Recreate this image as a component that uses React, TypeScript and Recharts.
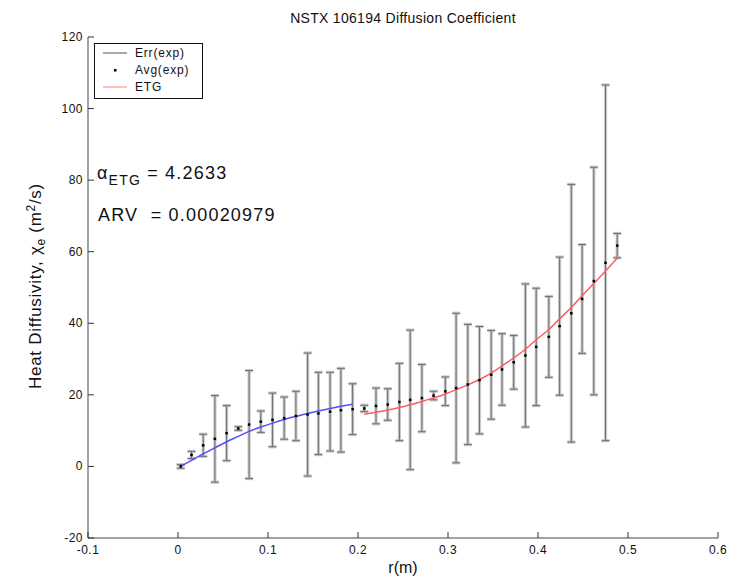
import { ComposedChart, Scatter, Line, XAxis, YAxis, ErrorBar } from "recharts";

// radius of each measured point (m)
const radius = [
  0.003, 0.015, 0.028, 0.041, 0.054, 0.067, 0.079, 0.092, 0.105, 0.118,
  0.131, 0.144, 0.156, 0.169, 0.181, 0.194, 0.207, 0.22, 0.233, 0.246,
  0.258, 0.271, 0.284, 0.297, 0.309, 0.322, 0.335, 0.348, 0.36, 0.373,
  0.386, 0.398, 0.412, 0.424, 0.437, 0.449, 0.462, 0.475, 0.488,
];

// Avg(exp)
const chiAvg = [
  0.0, 3.2, 5.9, 7.7, 9.3, 10.6, 11.7, 12.5, 13.0, 13.5,
  14.1, 14.5, 14.8, 15.3, 15.7, 16.0, 16.2, 16.9, 17.3, 18.0,
  18.6, 19.1, 19.8, 21.0, 21.9, 22.9, 24.1, 25.6, 27.1, 29.1,
  31.0, 33.4, 36.2, 39.2, 42.8, 46.8, 51.8, 56.9, 61.7,
];

// Err(exp), half width of each bar
const chiErr = [
  0.5, 1.0, 3.1, 12.1, 7.7, 0.5, 15.1, 3.0, 7.5, 5.9,
  6.9, 17.2, 11.5, 11.0, 11.7, 7.1, 0.9, 5.0, 4.4, 10.8,
  19.5, 9.4, 1.2, 4.0, 20.9, 16.8, 15.0, 12.4, 10.0, 7.5,
  20.0, 16.4, 11.3, 19.3, 36.0, 15.2, 31.8, 49.7, 3.4,
];

// inner fit (blue), first 16 points
const fitInner = [
  0.0, 1.7, 3.5, 5.2, 6.9, 8.4, 9.8, 11.0, 12.1, 13.1,
  14.0, 14.8, 15.5, 16.2, 16.8, 17.4,
];

// ETG fit (red), last 23 points
const fitEtg = [
  14.6, 15.15, 15.75, 16.45, 17.25, 18.15, 19.15, 20.25, 21.45, 22.8,
  24.3, 26.1, 28.1, 30.3, 32.75, 35.4, 38.25, 41.25, 44.4, 47.7,
  51.1, 54.6, 58.15,
];

const xTicks = [-0.1, 0, 0.1, 0.2, 0.3, 0.4, 0.5, 0.6];
const yTicks = [-20, 0, 20, 40, 60, 80, 100, 120];

const etgStart = radius.length - fitEtg.length;
const rows = radius.map((r, i) => ({
  r,
  avg: chiAvg[i],
  err: chiErr[i],
  inner: i < fitInner.length ? fitInner[i] : null,
  etg: i >= etgStart ? fitEtg[i - etgStart] : null,
}));

const FONT = "'Liberation Sans', Arial, Helvetica, sans-serif";

function LeftTick(props: any) {
  const { x, y, payload } = props;
  return (
    <g>
      <line x1={x + 5} y1={y} x2={x + 11} y2={y} stroke="#333" />
      <text x={x} y={y} dy={4} textAnchor="end" fontSize={12} letterSpacing={0.5} fontFamily={FONT} fill="#111">
        {payload.value}
      </text>
    </g>
  );
}

function BottomTick(props: any) {
  const { x, y, payload } = props;
  return (
    <g>
      <line x1={x} y1={y - 5} x2={x} y2={y - 11} stroke="#333" />
      <text x={x} y={y} dy={11} textAnchor="middle" fontSize={12} letterSpacing={0.5} fontFamily={FONT} fill="#111">
        {payload.value}
      </text>
    </g>
  );
}

function AvgDot(props: any) {
  const { cx, cy } = props;
  if (cx == null || cy == null) return null;
  return <rect x={cx - 1.25} y={cy - 1.25} width={2.5} height={2.5} fill="#000" />;
}

export default function App() {
  return (
    <div style={{ position: "absolute", left: 0, top: 0, width: 740, height: 582, background: "#fff" }}>
      <ComposedChart
        width={740}
        height={582}
        data={rows}
        margin={{ top: 37, right: 22, bottom: 14, left: 28 }}
      >
        <XAxis
          type="number"
          dataKey="r"
          domain={[-0.1, 0.6]}
          ticks={xTicks}
          height={30}
          tickSize={0}
          tickMargin={5}
          tick={BottomTick}
          stroke="#444"
          allowDataOverflow
        />
        <YAxis
          type="number"
          domain={[-20, 120]}
          ticks={yTicks}
          width={60}
          tickSize={0}
          tickMargin={5}
          tick={LeftTick}
          stroke="#444"
          allowDataOverflow
        />
        <Scatter dataKey="avg" shape={AvgDot} isAnimationActive={false}>
          <ErrorBar dataKey="err" direction="y" width={4} stroke="#c8c8c8" strokeWidth={3.2} isAnimationActive={false} />
          <ErrorBar dataKey="err" direction="y" width={4} stroke="#666" strokeWidth={0.9} isAnimationActive={false} />
        </Scatter>
        <Line
          dataKey="inner"
          type="monotone"
          stroke="#5050ff"
          strokeWidth={1.5}
          dot={false}
          activeDot={false}
          connectNulls={false}
          isAnimationActive={false}
        />
        <Line
          dataKey="etg"
          type="monotone"
          stroke="#ff5c5c"
          strokeWidth={1.5}
          dot={false}
          activeDot={false}
          connectNulls={false}
          isAnimationActive={false}
        />
      </ComposedChart>

      <svg
        width={740}
        height={582}
        style={{ position: "absolute", left: 0, top: 0, pointerEvents: "none" }}
        fontFamily={FONT}
      >
        <text x={403} y={23} textAnchor="middle" fontSize={14} letterSpacing={0.3} fill="#111">
          NSTX 106194 Diffusion Coefficient
        </text>
        <text x={403} y={573} textAnchor="middle" fontSize={16} fill="#111">
          r(m)
        </text>
        <text x={41} y={286} textAnchor="middle" fontSize={17} letterSpacing={0.7} fill="#111" transform="rotate(-90 41 286)">
          Heat Diffusivity, χ<tspan fontSize={12} dy={4}>e</tspan>
          <tspan dy={-4}> (m</tspan>
          <tspan fontSize={12} dy={-6}>2</tspan>
          <tspan dy={6}>/s)</tspan>
        </text>

        <text x={97} y={179} fontSize={18} letterSpacing={1.2} fill="#111" style={{ whiteSpace: "pre" }}>
          α<tspan fontSize={14} dy={6}>ETG</tspan>
          <tspan dy={-6}>{" = 4.2633"}</tspan>
        </text>
        <text x={98} y={221} fontSize={18} letterSpacing={1.2} fill="#111" style={{ whiteSpace: "pre" }}>
          {"ARV  = 0.00020979"}
        </text>

        <rect x={94.5} y={43.5} width={108} height={55} fill="#fff" stroke="#111" />
        <line x1={103} y1={53} x2={127} y2={53} stroke="#555" />
        <text x={135} y={57} fontSize={12} letterSpacing={0.8} fill="#111">Err(exp)</text>
        <rect x={114} y={69} width={2.5} height={2.5} fill="#000" />
        <text x={135} y={74} fontSize={12} letterSpacing={0.8} fill="#111">Avg(exp)</text>
        <line x1={103} y1={87} x2={127} y2={87} stroke="#ff8080" />
        <text x={135} y={91} fontSize={12} letterSpacing={0.8} fill="#111">ETG</text>
      </svg>
    </div>
  );
}
